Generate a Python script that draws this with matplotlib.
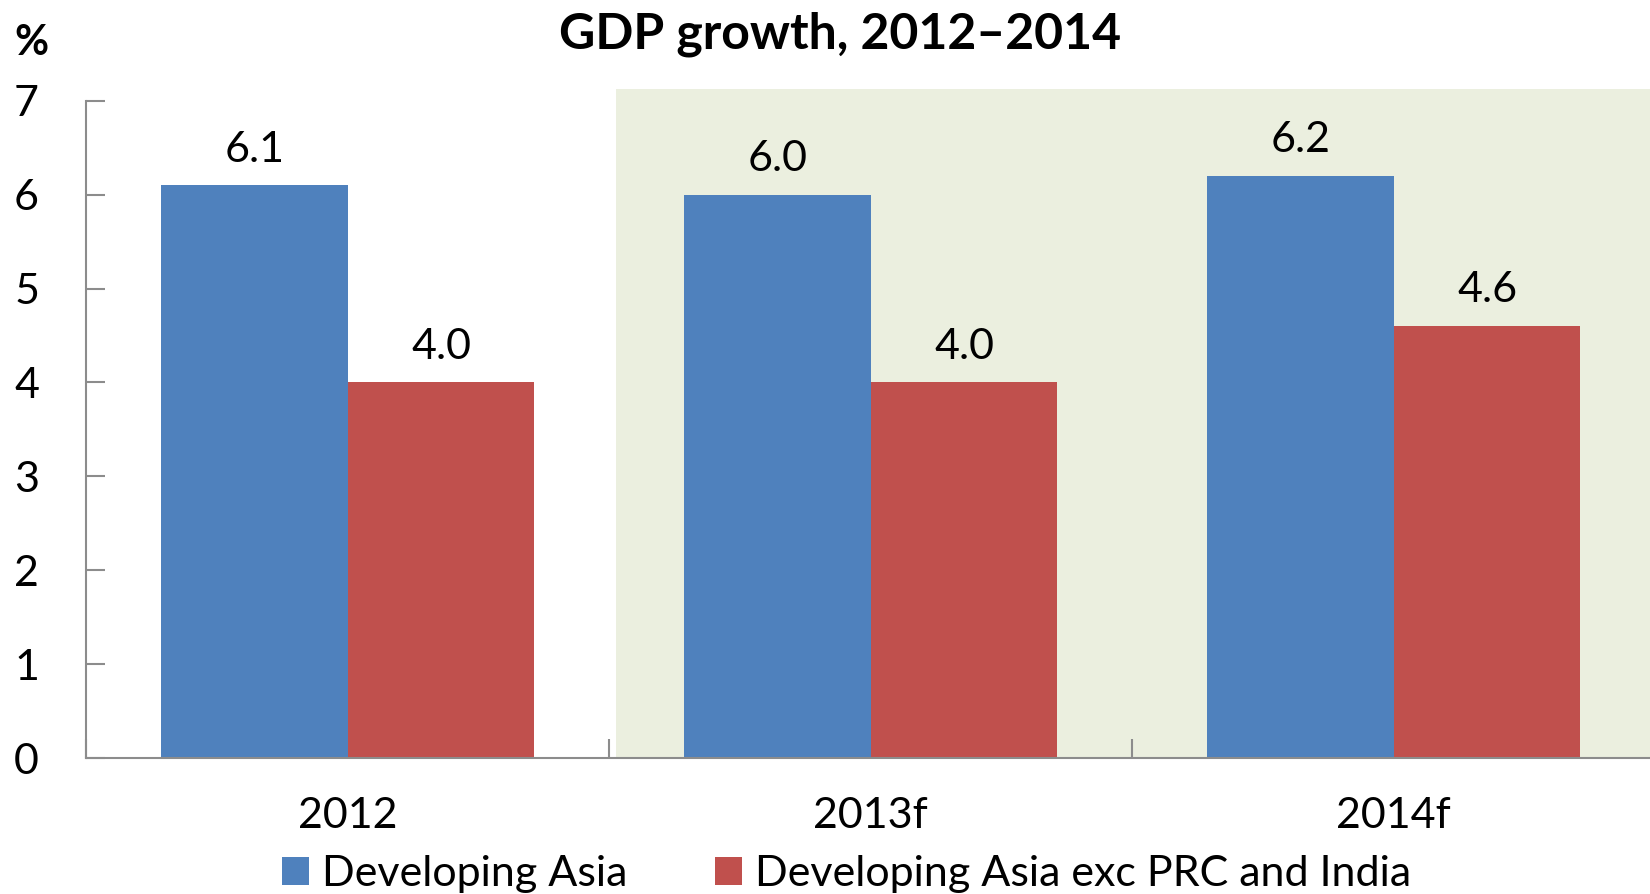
import matplotlib.pyplot as plt
import numpy as np

plt.rcParams['font.family'] = ['Lato', 'DejaVu Sans']

years = ["2012", "2013f", "2014f"]
dev_asia = [6.1, 6.0, 6.2]
dev_asia_exc = [4.0, 4.0, 4.6]
series_names = ["Developing Asia", "Developing Asia exc PRC and India"]

blue = "#4F81BD"
red = "#C0504D"
shade = "#EBEFDF"

fig = plt.figure(figsize=(16.5, 8.94), dpi=100)
ax = fig.add_axes([0.0523, 0.152, 0.9477, 0.749])

x = np.arange(len(years))
w = 0.357

# forecast years shaded
ax.axvspan(0.512, 2.6, ymin=0, ymax=1, color=shade, zorder=0, lw=0)

b1 = ax.bar(x - w / 2, dev_asia, w, color=blue, zorder=2)
b2 = ax.bar(x + w / 2, dev_asia_exc, w, color=red, zorder=2)

for bars in (b1, b2):
    for r in bars:
        ax.annotate(f"{r.get_height():.1f}",
                    (r.get_x() + r.get_width() / 2, r.get_height()),
                    xytext=(0, 12), textcoords="offset points",
                    ha="center", va="bottom", fontsize=31)

ax.set_xlim(-0.5, 2.49)
ax.set_ylim(0, 7.13)
ax.set_yticks(range(0, 8))
ax.spines["left"].set_bounds(0, 7)
for s in ("top", "right"):
    ax.spines[s].set_visible(False)
for s in ("left", "bottom"):
    ax.spines[s].set_color("#8C8C8C")
    ax.spines[s].set_linewidth(1.5)

ax.tick_params(axis="y", direction="in", length=14, width=1.5, color="#8C8C8C",
               labelsize=31, pad=34)
ax.set_xticks(x)
ax.set_xticklabels(years)
ax.set_xticks([-0.5, 0.5, 1.5], minor=True)
ax.tick_params(axis="x", which="major", length=0, labelsize=31, pad=28)
ax.tick_params(axis="x", which="minor", direction="in", length=14, width=1.5,
               color="#8C8C8C")

fig.text(0.509, 0.962, "GDP growth, 2012\u20132014", ha="center", va="center",
         fontsize=36, fontweight="bold")
fig.text(0.019, 0.952, "%", ha="center", va="center", fontsize=30,
         fontweight="bold")

fig.legend([b1, b2], series_names, loc="center", bbox_to_anchor=(0.513, 0.022),
           ncol=2, frameon=False, fontsize=31, handlelength=0.62,
           handleheight=0.62, handletextpad=0.3, columnspacing=2.05,
           borderaxespad=0, borderpad=0)

fig.savefig("out.png", dpi=100)
